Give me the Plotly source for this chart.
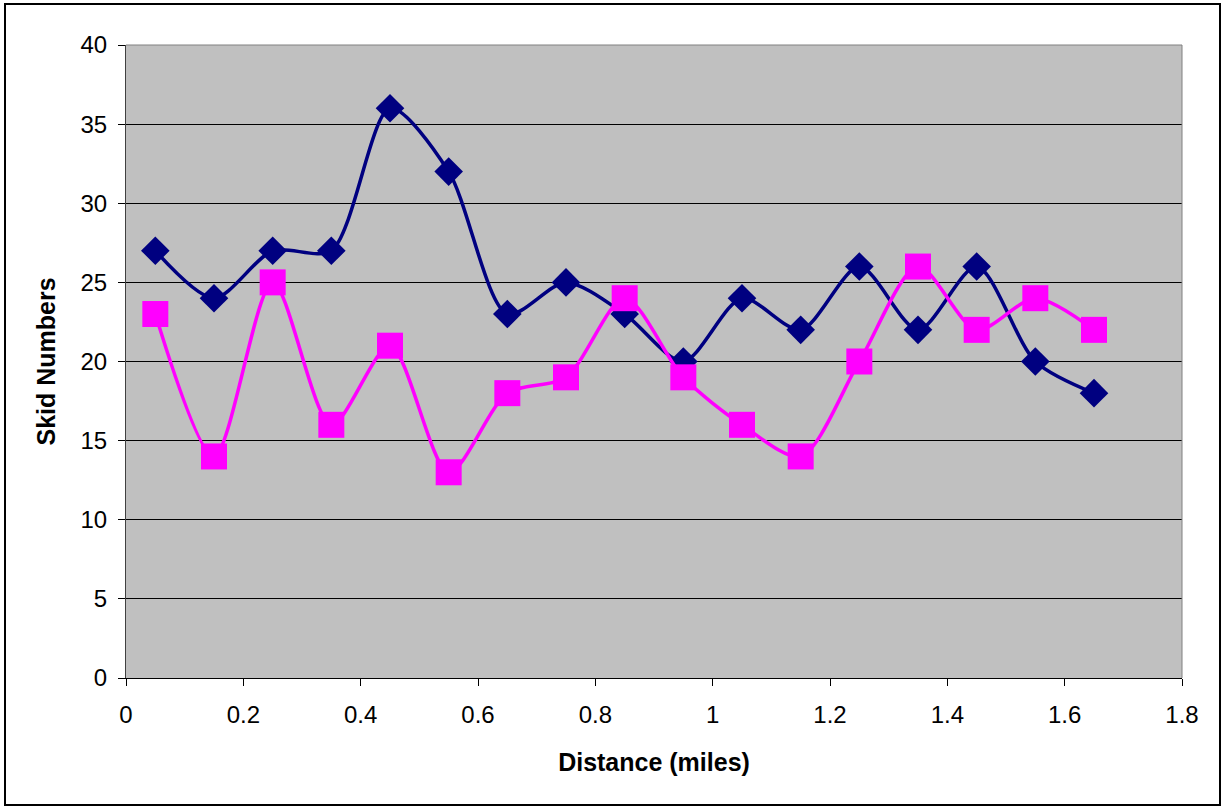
import plotly.graph_objects as go

distance = [0.05, 0.15, 0.25, 0.35, 0.45, 0.55, 0.65, 0.75, 0.85, 0.95, 1.05, 1.15, 1.25, 1.35, 1.45, 1.55, 1.65]
series_blue = [27, 24, 27, 27, 36, 32, 23, 25, 23, 20, 24, 22, 26, 22, 26, 20, 18]
series_pink = [23, 14, 25, 16, 21, 13, 18, 19, 24, 19, 16, 14, 20, 26, 22, 24, 22]

fig = go.Figure()
fig.add_trace(go.Scatter(
    x=distance, y=series_blue, mode="lines+markers",
    line=dict(color="#000080", width=3.5, shape="spline", smoothing=0.8),
    marker=dict(symbol="diamond", size=22, color="#000080"),
    showlegend=False,
))
fig.add_trace(go.Scatter(
    x=distance, y=series_pink, mode="lines+markers",
    line=dict(color="#FF00FF", width=3.5, shape="spline", smoothing=0.8),
    marker=dict(symbol="square", size=26, color="#FF00FF"),
    showlegend=False,
))

font_family = "Liberation Sans, Arial, sans-serif"
W, H = 1222, 807
L, R, T, B = 126, 40, 45, 129
pw, ph = W - L - R, H - T - B

def px_x(p):
    return (p - L) / pw

def px_y(p):
    return (H - B - p) / ph

fig.update_layout(
    width=W, height=H,
    margin=dict(l=L, r=R, t=T, b=B),
    paper_bgcolor="white",
    plot_bgcolor="#C0C0C0",
    font=dict(family=font_family, size=24, color="black"),
    xaxis=dict(
        range=[0, 1.8], dtick=0.2, tick0=0,
        showgrid=False, zeroline=False,
        showline=True, linecolor="#000000", linewidth=1,
        ticks="outside", ticklen=7, tickcolor="#000000",
        tickfont=dict(size=24), ticklabelstandoff=8,
        title=dict(text="<b>Distance (miles)</b>", font=dict(size=25), standoff=26),
    ),
    yaxis=dict(
        range=[0, 40], dtick=5, tick0=0,
        showgrid=True, gridcolor="#000000", gridwidth=1,
        zeroline=False,
        showline=True, linecolor="#404040", linewidth=1,
        ticks="outside", ticklen=7, tickcolor="#000000",
        tickfont=dict(size=24), ticklabelstandoff=6,
        title=dict(text="<b>Skid Numbers</b>", font=dict(size=25), standoff=17),
    ),
    shapes=[
        dict(type="line", xref="paper", yref="paper", x0=0, x1=1, y0=1, y1=1,
             line=dict(color="#808080", width=1)),
        dict(type="line", xref="paper", yref="paper", x0=1, x1=1, y0=0, y1=1,
             line=dict(color="#808080", width=1)),
        dict(type="rect", xref="paper", yref="paper",
             x0=px_x(5), x1=px_x(1220), y0=px_y(805), y1=px_y(4),
             line=dict(color="black", width=2), layer="below"),
    ],
)

fig.write_html("out.html", config={"displayModeBar": False},
               post_script="document.body.style.margin='0';")
